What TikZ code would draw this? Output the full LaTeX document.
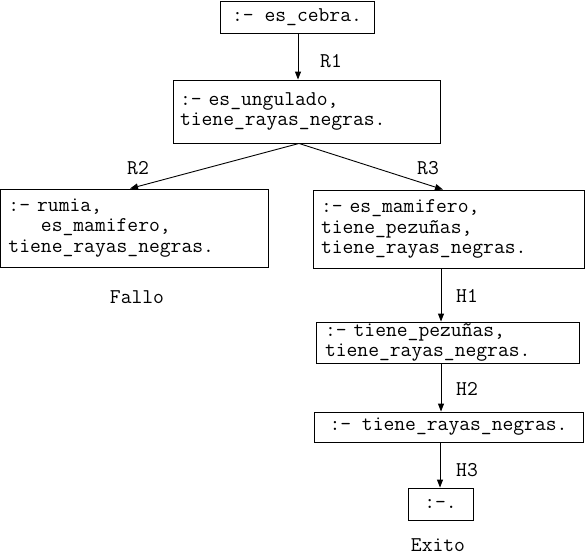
\documentclass[tikz,border=0pt]{standalone}
\usepackage{fontspec}
\usetikzlibrary{arrows.meta}
\begin{document}
\begin{tikzpicture}[x=1pt,y=-1pt,
  every node/.style={font=\ttfamily\fontsize{21}{20.5}\selectfont},
  goal/.style={draw,line width=0.9pt,inner ysep=0pt,align=left},
  cgoal/.style={draw,line width=0.9pt,inner sep=0pt,align=center},
  lbl/.style={inner sep=0pt},
  arr/.style={line width=0.9pt,-{Triangle[length=8pt,width=6pt]}}]
\useasboundingbox (0,0) rectangle (585,555);
\node[cgoal,minimum width=154,minimum height=32] (B1) at (297,17) {:- es\_cebra.};
\node[goal,text width=253,inner xsep=7,minimum height=63] (B2) at (306.5,111.5) {:- es\_ungulado,\\tiene\_rayas\_negras.};
\node[goal,text width=252,inner xsep=8,minimum height=78] (B3) at (134.5,228) {:- rumia,\\\hphantom{:-x}es\_mamifero,\\tiene\_rayas\_negras.};
\node[goal,text width=255,inner xsep=8,minimum height=78] (B4) at (448.5,229) {:- es\_mamifero,\\tiene\_pezuñas,\\tiene\_rayas\_negras.};
\node[goal,text width=245,inner xsep=9,minimum height=41] (B5) at (447.5,342.5) {:- tiene\_pezuñas,\\tiene\_rayas\_negras.};
\node[cgoal,minimum width=269,minimum height=30] (B6) at (448.5,427) {:- tiene\_rayas\_negras.};
\node[cgoal,minimum width=65,minimum height=32] (B7) at (440.5,504) {:-.};
\node[lbl] (F) at (137,297) {Fallo};
\node[lbl] (E) at (438,545) {Exito};
\draw[arr] (B1.south -| 298,0) -- (B2.north -| 298,0);
\draw[arr] (B2.south -| 299,0) -- (B3.north -| 130,0);
\draw[arr] (B2.south -| 299,0) -- (B4.north -| 443,0);
\draw[arr] (B4.south -| 441,0) -- (B5.north -| 441,0);
\draw[arr] (B5.south -| 441,0) -- (B6.north -| 441,0);
\draw[arr] (B6.south -| 440,0) -- (B7.north -| 440,0);
\node[lbl] (R1) at (331,61) {R1};
\node[lbl] (R2) at (138,168) {R2};
\node[lbl] (R3) at (428,168) {R3};
\node[lbl] (H1) at (467,296) {H1};
\node[lbl] (H2) at (467,389) {H2};
\node[lbl] (H3) at (467,470) {H3};
\end{tikzpicture}
\end{document}
